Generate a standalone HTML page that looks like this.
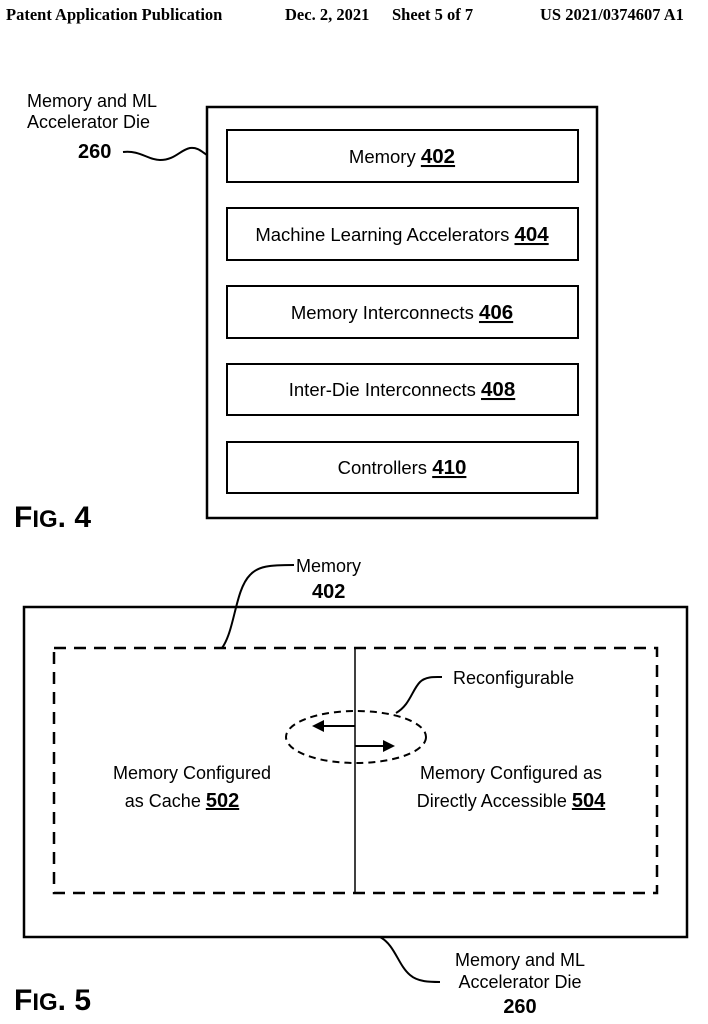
<!DOCTYPE html>
<html><head><meta charset="utf-8"><style>
html,body{margin:0;padding:0;background:#fff;}
svg{display:block;}
text{font-family:"Liberation Sans",sans-serif;fill:#000;}
.s{font-family:"Liberation Serif",serif;font-weight:bold;font-size:16.5px;}
</style></head><body>
<svg width="708" height="1024" viewBox="0 0 708 1024" xmlns="http://www.w3.org/2000/svg">
<text class="s" x="6" y="20">Patent Application Publication</text>
<text class="s" x="285" y="20">Dec. 2, 2021</text>
<text class="s" x="392" y="20">Sheet 5 of 7</text>
<text class="s" x="540" y="20">US 2021/0374607 A1</text>

<g fill="none" stroke="#000">
<rect x="207" y="107" width="390" height="411" stroke-width="2.5"/>
<rect x="227" y="130" width="351" height="52" stroke-width="2"/>
<rect x="227" y="208" width="351" height="52" stroke-width="2"/>
<rect x="227" y="286" width="351" height="52" stroke-width="2"/>
<rect x="227" y="364" width="351" height="51" stroke-width="2"/>
<rect x="227" y="442" width="351" height="51" stroke-width="2"/>
<path d="M123 152 C140 150,148 160,160 160 C175 160,180 150,190 148 C198 147,202 152,207 155" stroke-width="2"/>
</g>
<text x="27" y="107" font-size="18">Memory and ML</text>
<text x="27" y="128" font-size="18">Accelerator Die</text>
<text x="78" y="158" font-size="20" font-weight="bold">260</text>
<g font-size="18.5" text-anchor="middle">
<text x="402" y="163">Memory <tspan font-weight="bold" font-size="20.5" text-decoration="underline">402</tspan></text>
<text x="402" y="241">Machine Learning Accelerators <tspan font-weight="bold" font-size="20.5" text-decoration="underline">404</tspan></text>
<text x="402" y="319">Memory Interconnects <tspan font-weight="bold" font-size="20.5" text-decoration="underline">406</tspan></text>
<text x="402" y="396">Inter-Die Interconnects <tspan font-weight="bold" font-size="20.5" text-decoration="underline">408</tspan></text>
<text x="402" y="474">Controllers <tspan font-weight="bold" font-size="20.5" text-decoration="underline">410</tspan></text>
</g>
<text x="14" y="527" font-size="30" font-weight="bold">F<tspan font-size="24">IG</tspan>. 4</text>

<g fill="none" stroke="#000">
<rect x="24" y="607" width="663" height="330" stroke-width="2.5"/>
<rect x="54" y="648" width="603" height="245" stroke-width="2.5" stroke-dasharray="12,8"/>
<line x1="355" y1="648" x2="355" y2="893" stroke-width="1.5"/>
<ellipse cx="356" cy="737" rx="70" ry="26" stroke-width="2" stroke-dasharray="7,5"/>
<path d="M222 648 C235 630,235 590,250 575 C258 566,270 565,294 565" stroke-width="2"/>
<path d="M396 713 C410 705,412 690,420 682 C426 676,436 677,442 677" stroke-width="2"/>
<path d="M380 937 C395 945,398 965,410 975 C418 982,430 982,440 982" stroke-width="2"/>
<line x1="355" y1="726" x2="322" y2="726" stroke-width="2"/>
<line x1="355" y1="746" x2="385" y2="746" stroke-width="2"/>
</g>
<polygon points="312,726 324,720 324,732" fill="#000"/>
<polygon points="395,746 383,740 383,752" fill="#000"/>
<g font-size="18">
<text x="296" y="572">Memory</text>
<text x="312" y="598" font-size="20" font-weight="bold">402</text>
<text x="453" y="684">Reconfigurable</text>
<text x="192" y="779" text-anchor="middle">Memory Configured</text>
<text x="182" y="807" text-anchor="middle">as Cache <tspan font-weight="bold" font-size="20" text-decoration="underline">502</tspan></text>
<text x="511" y="779" text-anchor="middle">Memory Configured as</text>
<text x="511" y="807" text-anchor="middle">Directly Accessible <tspan font-weight="bold" font-size="20" text-decoration="underline">504</tspan></text>
<text x="520" y="966" text-anchor="middle">Memory and ML</text>
<text x="520" y="988" text-anchor="middle">Accelerator Die</text>
<text x="520" y="1013" text-anchor="middle" font-size="20" font-weight="bold">260</text>
</g>
<text x="14" y="1010" font-size="30" font-weight="bold">F<tspan font-size="24">IG</tspan>. 5</text>
</svg>
</body></html>
